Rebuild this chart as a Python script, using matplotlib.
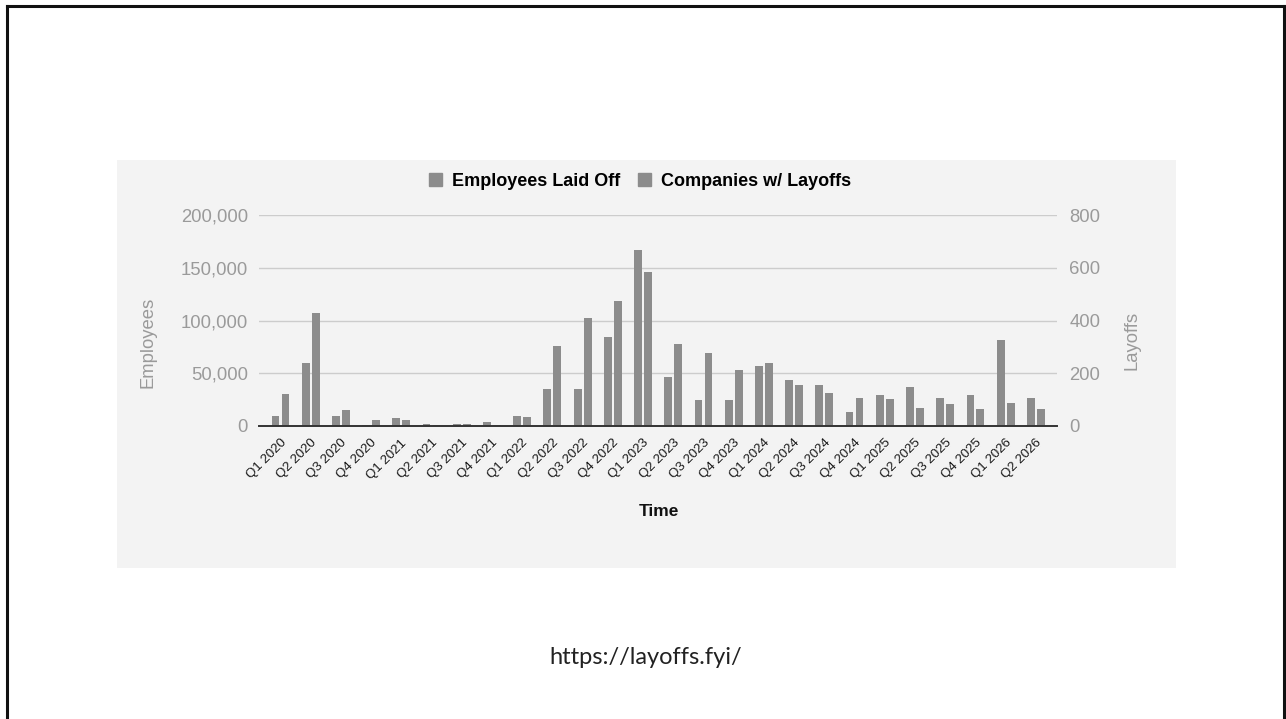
import numpy as np
import matplotlib
matplotlib.use("Agg")
import matplotlib.pyplot as plt
import matplotlib.transforms as mtransforms
from matplotlib.patches import Rectangle
from matplotlib.lines import Line2D

# Datos (layoffs.fyi)
trimestres = ["Q1 2020", "Q2 2020", "Q3 2020", "Q4 2020",
              "Q1 2021", "Q2 2021", "Q3 2021", "Q4 2021",
              "Q1 2022", "Q2 2022", "Q3 2022", "Q4 2022",
              "Q1 2023", "Q2 2023", "Q3 2023", "Q4 2023",
              "Q1 2024", "Q2 2024", "Q3 2024", "Q4 2024",
              "Q1 2025", "Q2 2025", "Q3 2025", "Q4 2025",
              "Q1 2026", "Q2 2026"]
empleados = [9500, 59500, 9500, 1300, 7600, 2200, 2000, 3500,
             9500, 34800, 34800, 84400, 167000, 46500, 25000, 25000,
             57200, 43300, 38900, 13000, 29400, 36700, 26900, 29400,
             81900, 26900]
empresas = [120, 427, 61, 21, 21, 5, 9, 5,
            34, 302, 409, 475, 582, 311, 277, 211,
            238, 155, 126, 107, 103, 69, 82, 66,
            87, 66]

plt.rcParams['font.family'] = ['Liberation Sans', 'DejaVu Sans']

W, H = 1286, 719
fig = plt.figure(figsize=(W / 100, H / 100), dpi=100)
fig.patch.set_facecolor('white')

def fx(px):
    return px / W

def fy(py):
    return 1 - py / H

gris_barra = '#8c8c8c'
gris_texto = '#9a9a9a'
fondo = '#f3f3f3'

# panel gris claro detrás del gráfico
fig.patches.append(Rectangle((fx(117), fy(568)), fx(1176) - fx(117), fy(160) - fy(568),
                             transform=fig.transFigure, facecolor=fondo,
                             edgecolor='none', zorder=-10))

# marco negro del slide
for xs, ys in [([7, 7], [6, 719]), ([7, 1284], [6, 6]), ([1284, 1284], [6, 719])]:
    fig.lines.append(Line2D([fx(x) for x in xs], [fy(y) for y in ys],
                            transform=fig.transFigure, color='#111111', lw=2.2,
                            zorder=-5))

ax = fig.add_axes([fx(259), fy(426), fx(1057) - fx(259), fy(215) - fy(426)])
ax.set_facecolor('none')
ax2 = ax.twinx()
ax2.set_facecolor('none')

x = np.arange(len(trimestres))
ancho = 0.26
desp = 0.165
ax.bar(x - desp, empleados, width=ancho, color=gris_barra, zorder=3)
ax2.bar(x + desp, empresas, width=ancho, color=gris_barra, zorder=3)

ax.set_xlim(-0.71, 25.70)
ax.set_ylim(0, 200000)
ax2.set_ylim(0, 800)
ax.set_yticks(np.arange(0, 200001, 50000))
ax2.set_yticks(np.arange(0, 801, 200))
ax.set_yticklabels([f"{v:,}" for v in range(0, 200001, 50000)])

ax.grid(axis='y', color='#cccccc', lw=1.0, zorder=0)
ax.set_axisbelow(True)
for a in (ax, ax2):
    for s in a.spines.values():
        s.set_visible(False)
    a.tick_params(length=0)
ax2.spines['bottom'].set_visible(True)
ax2.spines['bottom'].set_color('#333333')
ax2.spines['bottom'].set_linewidth(1.4)
ax2.spines['bottom'].set_zorder(5)

ax.tick_params(axis='y', labelsize=13.3, labelcolor=gris_texto, pad=8)
ax2.tick_params(axis='y', labelsize=13.3, labelcolor=gris_texto, pad=9)

ax.set_xticks(x)
ax.set_xticklabels(trimestres, rotation=45, ha='right', va='center',
                   rotation_mode='anchor', fontsize=9.5, color='#1a1a1a')
ax.tick_params(axis='x', pad=11)
desplaz = mtransforms.ScaledTranslation(4 / 100, 0, fig.dpi_scale_trans)
for lbl in ax.get_xticklabels():
    lbl.set_transform(lbl.get_transform() + desplaz)

# títulos de ejes
fig.text(fx(148), fy(342), "Employees", rotation=90, ha='center', va='center',
         fontsize=13.3, color=gris_texto)
fig.text(fx(1132), fy(340), "Layoffs", rotation=90, ha='center', va='center',
         fontsize=13.3, color=gris_texto)
fig.text(fx(659), fy(511), "Time", ha='center', va='center',
         fontsize=12.5, fontweight='bold', color='#111111')

# leyenda
handles = [Rectangle((0, 0), 1, 1, color=gris_barra),
           Rectangle((0, 0), 1, 1, color=gris_barra)]
fig.legend(handles, ["Employees Laid Off", "Companies w/ Layoffs"],
           loc='center', bbox_to_anchor=(fx(640), fy(181)), ncol=2,
           frameon=False, prop={'size': 13, 'weight': 'bold'},
           handlelength=0.72, handleheight=0.72, handletextpad=0.55,
           columnspacing=1.0, borderpad=0, borderaxespad=0)

# fuente
fig.text(fx(646), fy(657), "https://layoffs.fyi/", ha='center', va='center',
         fontsize=17, family=['Lato', 'DejaVu Sans'], color='#222222')

fig.savefig("out.png", dpi=100, facecolor='white')
